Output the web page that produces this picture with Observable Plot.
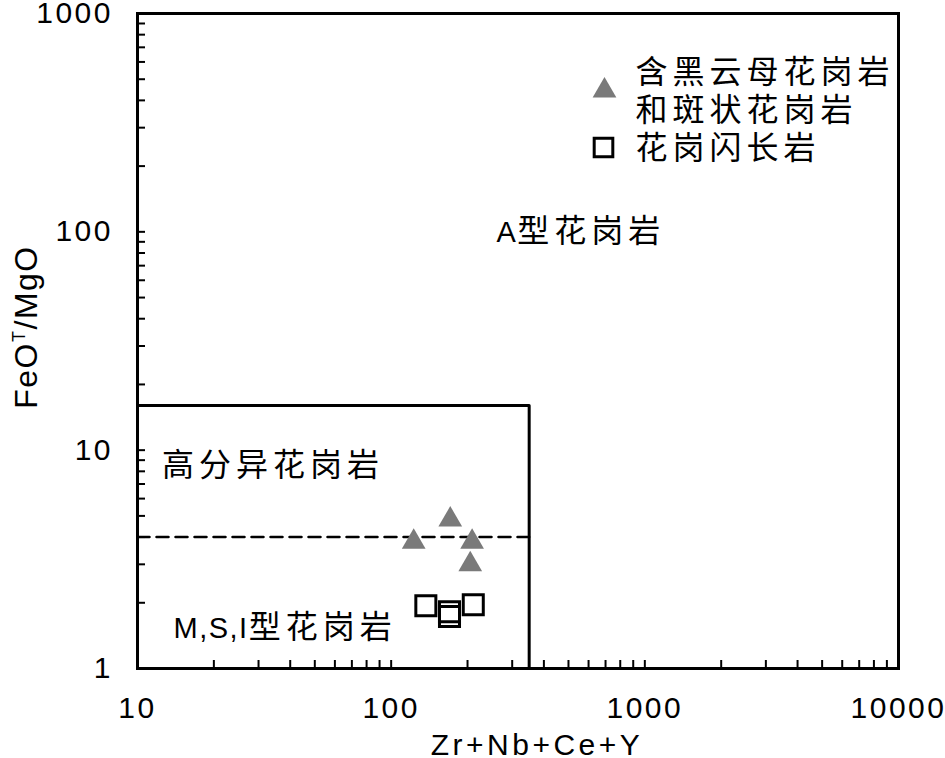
<!DOCTYPE html>
<html><head><meta charset="utf-8">
<script src="https://cdn.jsdelivr.net/npm/d3@7"></script>
<script src="https://cdn.jsdelivr.net/npm/@observablehq/plot@0.6"></script>
<style>
body{margin:0;background:#fff;}
g[aria-label="x-axis tick label"] text, g[aria-label="y-axis tick label"] text{letter-spacing:2.5px;}
</style></head><body><div id="chart"></div>
<script>
// ---- data ----
const xLabelTicks = [10, 100, 1000, 10000];
const yLabelTicks = [1, 10, 100, 1000];
const minorSteps = [1, 2, 3, 4, 5, 6, 7, 8, 9];
const biotiteX = [122.7, 171, 208.5, 205];
const biotiteY = [3.80, 4.80, 3.80, 3.00];
const granodioriteX = [137, 169.8, 169.8, 210.7];
const granodioriteY = [1.94, 1.82, 1.73, 1.96];
const boundaryX = [10, 350, 350];
const boundaryY = [16, 16, 1];
const dashedX = [10, 350];
const dashedY = [4, 4];
const fieldLabels = ["A型花岗岩", "高分异花岗岩", "M,S,I型花岗岩"];
const legendLabels = ["含黑云母花岗岩\n和斑状花岗岩", "花岗闪长岩"];
const xTitle = "Zr+Nb+Ce+Y";
const yTitle = "FeOT/MgO";

// ---- derived tables ----
const allTicks = (majors) => majors.slice(0, -1).flatMap(m => minorSteps.map(k => k * m)).concat(majors.slice(-1));
const xTicksAll = allTicks(xLabelTicks);
const yTicksAll = allTicks(yLabelTicks);
const biotite = biotiteX.map((x, i) => ({x, y: biotiteY[i]}));
const granodiorite = granodioriteX.map((x, i) => ({x, y: granodioriteY[i]}));
const boundary = boundaryX.map((x, i) => ({x, y: boundaryY[i]}));
const dashed = dashedX.map((x, i) => ({x, y: dashedY[i]}));

const FONT = "'Liberation Sans', 'Noto Sans CJK SC', sans-serif";
const GRAY = "#7a7a7a";
const ann = {fontSize: 32, textAnchor: "start", lineAnchor: "middle", frameAnchor: "top-left", fill: "black"};

const chart = Plot.plot({
  width: 945, height: 758,
  marginLeft: 137, marginRight: 47, marginTop: 13, marginBottom: 90,
  style: {fontFamily: FONT, fontSize: "30px", background: "white", color: "black"},
  x: {type: "log", domain: [10, 10000]},
  y: {type: "log", domain: [1, 1000]},
  marks: [
    Plot.axisX({ticks: xTicksAll, tickSize: 8, dy: -8, fill: "none", strokeWidth: 2, label: null}),
    Plot.axisY({ticks: yTicksAll, tickSize: 8, dx: 8, fill: "none", strokeWidth: 2, label: null}),
    Plot.axisX({ticks: xLabelTicks, tickSize: 0, tickPadding: 28, tickFormat: d => String(d), label: null, fontSize: 30}),
    Plot.axisY({ticks: yLabelTicks, tickSize: 0, tickPadding: 24.5, tickFormat: d => String(d), label: null, fontSize: 30}),
    Plot.line(boundary, {x: "x", y: "y", stroke: "black", strokeWidth: 3}),
    Plot.line(dashed, {x: "x", y: "y", stroke: "black", strokeWidth: 2.5, strokeDasharray: "12,7"}),
    Plot.frame({stroke: "black", strokeWidth: 3}),
    Plot.dot(biotite, {x: "x", y: "y", symbol: "triangle", r: 8.8, fill: GRAY, stroke: "none"}),
    Plot.dot(granodiorite, {x: "x", y: "y", symbol: "square", r: 11.3, fill: "none", stroke: "black", strokeWidth: 3}),
    // field labels
    Plot.text([fieldLabels[0]], {...ann, text: d => d, dx: 359, dy: 218.5}),
    Plot.text([fieldLabels[1]], {...ann, text: d => d, dx: 24.5, dy: 452.5}),
    Plot.text([fieldLabels[2]], {...ann, text: d => d, dx: 36, dy: 614.5}),
    // legend
    Plot.dot([legendLabels[0]], {frameAnchor: "top-left", dx: 467, dy: 77.2, symbol: "triangle", r: 8.8, fill: GRAY, stroke: "none"}),
    Plot.dot([legendLabels[1]], {frameAnchor: "top-left", dx: 466, dy: 134, symbol: "square", r: 10.5, fill: "none", stroke: "black", strokeWidth: 3}),
    Plot.text([legendLabels[0]], {...ann, text: d => d, dx: 498, dy: 76.6, lineHeight: 1.18}),
    Plot.text([legendLabels[1]], {...ann, text: d => d, dx: 498, dy: 135.5}),
    // axis titles
    Plot.text([xTitle], {text: d => d, frameAnchor: "bottom", textAnchor: "middle", dx: 19, dy: 77, fontSize: 30, lineAnchor: "middle", fill: "black"}),
    Plot.text([yTitle], {text: d => d, frameAnchor: "left", textAnchor: "middle", dx: -110.3, dy: -14, rotate: -90, fontSize: 32, lineAnchor: "middle", fill: "black"})
  ]
});
document.getElementById("chart").appendChild(chart);

// post-processing: mixed letter-spacing for CJK/latin runs, superscript in y title
const SVGNS = "http://www.w3.org/2000/svg";
const cjk = /[\u3400-\u9fff]/;
const annSet = new Set(fieldLabels.concat(legendLabels.map(s => s.replace(/\n/g, ""))));
function spaceRuns(el) {
  const s = el.textContent;
  el.textContent = "";
  for (const part of s.match(/[\u3400-\u9fff]+|[^\u3400-\u9fff]+/g) || []) {
    const t = document.createElementNS(SVGNS, "tspan");
    t.textContent = part;
    if (cjk.test(part)) {
      t.style.letterSpacing = "5px";
    } else {
      t.style.letterSpacing = "1.5px";
      t.style.fontSize = "29px";
    }
    el.appendChild(t);
  }
}
chart.querySelectorAll("text").forEach(el => {
  const s = el.textContent;
  if (annSet.has(s)) {
    const tspans = Array.from(el.children).filter(c => c.tagName === "tspan");
    if (tspans.length) tspans.forEach(spaceRuns); else spaceRuns(el);
  } else if (s === xTitle) {
    el.style.letterSpacing = "3.5px";
  } else if (s === yTitle) {
    const i = s.indexOf("T/");
    el.textContent = "";
    el.style.letterSpacing = "1.5px";
    const a = document.createElementNS(SVGNS, "tspan"); a.textContent = s.slice(0, i);
    const b = document.createElementNS(SVGNS, "tspan"); b.textContent = s[i];
    b.setAttribute("font-size", 18); b.setAttribute("dy", -12);
    const c = document.createElementNS(SVGNS, "tspan"); c.textContent = s.slice(i + 1);
    c.setAttribute("dy", 12);
    el.append(a, b, c);
  }
});
</script></body></html>
